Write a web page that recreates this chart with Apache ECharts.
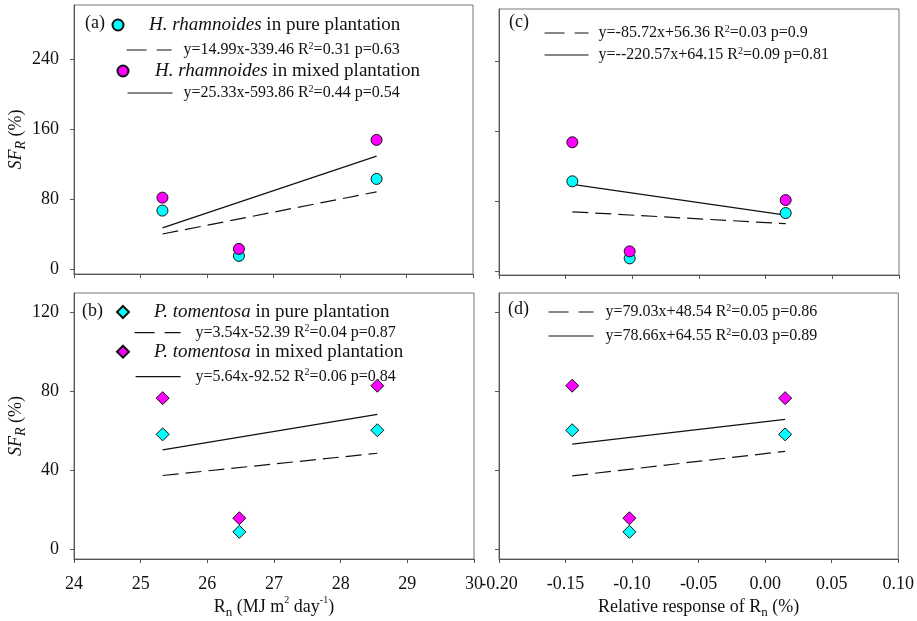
<!DOCTYPE html>
<html>
<head>
<meta charset="utf-8">
<script src="https://cdn.jsdelivr.net/npm/echarts@6/dist/echarts.min.js"></script>
<style>
  html, body { margin: 0; padding: 0; background: #fff; }
  #chart { width: 917px; height: 621px; }
</style>
</head>
<body>
<div id="chart"></div>
<script>
// x positions
const rnValues = [25.33, 26.48, 28.55];
const relValues = [0.015, -0.102, -0.145];

// SFR (%) of H. rhamnoides, same order as rnValues
const hrPure = [67, 15.2, 103.2];
const hrMixed = [81.8, 23.2, 147.8];
// SFR (%) of P. tomentosa
const ptPure = [58.2, 8.7, 60.3];
const ptMixed = [76.6, 15.6, 82.9];

// regression line end points [x, y]
const fitAPure = [[25.33, 40.2], [28.55, 88.4]];
const fitAMixed = [[25.33, 47.3], [28.55, 129.2]];
const fitCPure = [[-0.145, 68.4], [0.015, 54.8]];
const fitCMixed = [[-0.145, 99.6], [0.015, 64.6]];
const fitBPure = [[25.33, 37.3], [28.55, 48.6]];
const fitBMixed = [[25.33, 50.3], [28.55, 68.4]];
const fitDPure = [[-0.145, 37.1], [0.015, 49.6]];
const fitDMixed = [[-0.145, 53.2], [0.015, 65.8]];

const topTicks = [0, 80, 160, 240];
const bottomTicks = [0, 40, 80, 120];

const legendText = {
  aPure: '{i|H. rhamnoides} in pure plantation',
  aPureFit: 'y=14.99x-339.46 R{sup|2}=0.31 p=0.63',
  aMixed: '{i|H. rhamnoides} in mixed plantation',
  aMixedFit: 'y=25.33x-593.86 R{sup|2}=0.44 p=0.54',
  cPureFit: 'y=-85.72x+56.36 R{sup|2}=0.03 p=0.9',
  cMixedFit: 'y=--220.57x+64.15 R{sup|2}=0.09 p=0.81',
  bPure: '{i|P. tomentosa} in pure plantation',
  bPureFit: 'y=3.54x-52.39 R{sup|2}=0.04 p=0.87',
  bMixed: '{i|P. tomentosa} in mixed plantation',
  bMixedFit: 'y=5.64x-92.52 R{sup|2}=0.06 p=0.84',
  dPureFit: 'y=79.03x+48.54 R{sup|2}=0.05 p=0.86',
  dMixedFit: 'y=78.66x+64.55 R{sup|2}=0.03 p=0.89'
};

const FONT = '"Liberation Serif", "Times New Roman", serif';
const CYAN = '#00ffff';
const MAGENTA = '#ff00ff';
const AXIS = '#555';

function makeLegend(name, left, top, opts) {
  const fs = opts.big ? 19 : 16;
  const leg = {
    data: [name],
    left: left, top: top,
    orient: 'vertical',
    padding: 0,
    itemWidth: opts.w, itemHeight: opts.h,
    selectedMode: false,
    formatter: n => legendText[n],
    textStyle: {
      fontFamily: FONT, fontSize: fs, color: '#111', lineHeight: 20,
      padding: [0, 0, 0, opts.pad],
      rich: {
        i: { fontFamily: FONT, fontSize: fs, fontStyle: 'italic', color: '#111', lineHeight: 20 },
        sup: { fontFamily: FONT, fontSize: 10, color: '#111', verticalAlign: 'top', lineHeight: 10, padding: [1, 0, 0, 0] }
      }
    }
  };
  if (opts.line) {
    // line sample only, no symbol
    leg.itemStyle = { color: 'transparent', borderColor: 'transparent', borderWidth: 0, opacity: 0 };
    leg.lineStyle = { color: '#111', width: 1.2, type: opts.line === 'dashed' ? [20, 10] : 'solid' };
  }
  return leg;
}

const grids = [
  { left: 74, width: 399, top: 5, height: 269 },
  { left: 499, width: 400, top: 9, height: 266 },
  { left: 74, width: 400, top: 293, height: 266 },
  { left: 499, width: 400, top: 293, height: 266 }
].map(g => Object.assign(g, { show: true, borderColor: '#777', borderWidth: 1, containLabel: false }));

function xAxisFor(gridIndex, isRn, showLabels) {
  return {
    type: 'value', gridIndex: gridIndex,
    min: isRn ? 24 : -0.2, max: isRn ? 30 : 0.1, interval: isRn ? 1 : 0.05,
    splitLine: { show: false },
    axisLine: { onZero: false, lineStyle: { color: AXIS, width: 1 } },
    axisTick: { show: true, length: 4, lineStyle: { color: AXIS } },
    axisLabel: {
      show: showLabels, margin: 16, fontFamily: FONT, fontSize: 18, color: '#111',
      formatter: v => isRn ? String(Math.round(v)) : v.toFixed(2)
    },
    name: showLabels ? (isRn ? 'R{sub|n} (MJ m{sup|2} day{sup|-1})' : 'Relative response of R{sub|n} (%)') : '',
    nameLocation: 'middle', nameGap: 36,
    nameTextStyle: {
      fontFamily: FONT, fontSize: 18, color: '#111', lineHeight: 24,
      rich: {
        sub: { fontFamily: FONT, fontSize: 13, color: '#111', verticalAlign: 'bottom', lineHeight: 14 },
        sup: { fontFamily: FONT, fontSize: 10, color: '#111', verticalAlign: 'top', lineHeight: 12 }
      }
    }
  };
}

function yAxisFor(gridIndex, min, max, ticks, showLabels) {
  return {
    type: 'value', gridIndex: gridIndex, min: min, max: max,
    splitLine: { show: false },
    axisLine: { onZero: false, lineStyle: { color: AXIS, width: 1 } },
    axisTick: { show: true, length: 4, customValues: ticks, lineStyle: { color: AXIS } },
    axisLabel: {
      show: showLabels, customValues: ticks, margin: 15,
      fontFamily: FONT, fontSize: 18, color: '#111'
    },
    name: showLabels ? '{i|SF}{sub|R} (%)' : '',
    nameLocation: 'middle', nameGap: 46,
    nameTextStyle: {
      fontFamily: FONT, fontSize: 18, color: '#111', lineHeight: 24,
      rich: {
        i: { fontFamily: FONT, fontSize: 18, fontStyle: 'italic', color: '#111', lineHeight: 24 },
        sub: { fontFamily: FONT, fontSize: 14, fontStyle: 'italic', color: '#111', verticalAlign: 'bottom', lineHeight: 16 }
      }
    }
  };
}

function pts(xs, ys) { return xs.map((x, i) => [x, ys[i]]); }

function scatter(name, idx, data, color, symbol) {
  return {
    name: name, type: 'scatter', xAxisIndex: idx, yAxisIndex: idx,
    data: data, symbol: symbol, symbolSize: symbol === 'diamond' ? 13 : 11, z: 5,
    itemStyle: { color: color, borderColor: '#111', borderWidth: 1, opacity: 1 }
  };
}

function fit(name, idx, data, dashed) {
  return {
    name: name, type: 'line', xAxisIndex: idx, yAxisIndex: idx,
    data: data, symbol: 'none', showSymbol: false, z: 3,
    itemStyle: { color: '#111' },
    lineStyle: { color: '#111', width: 1.2, type: dashed ? [16, 7] : 'solid' }
  };
}

const panelTitle = (text, left, top) => ({
  text: text, left: left, top: top, padding: 0,
  textStyle: { fontFamily: FONT, fontSize: 18, fontWeight: 'normal', color: '#111' }
});

const option = {
  animation: false,
  backgroundColor: '#fff',
  title: [
    panelTitle('(a)', 85, 14),
    panelTitle('(c)', 509, 13),
    panelTitle('(b)', 82, 302),
    panelTitle('(d)', 508, 300)
  ],
  legend: [
    makeLegend('aPure', 111.5, 15, { w: 11, h: 11, pad: 20.5, big: true }),
    makeLegend('aPureFit', 126, 40, { w: 45, h: 14, pad: 7, line: 'dashed' }),
    makeLegend('aMixed', 116.5, 61, { w: 11, h: 11, pad: 21.5, big: true }),
    makeLegend('aMixedFit', 127, 83, { w: 45, h: 14, pad: 6, line: 'solid' }),
    makeLegend('cPureFit', 544, 23, { w: 44, h: 14, pad: 5, line: 'dashed' }),
    makeLegend('cMixedFit', 544, 45, { w: 44, h: 14, pad: 5, line: 'solid' }),
    makeLegend('bPure', 116, 302, { w: 12, h: 12, pad: 20, big: true }),
    makeLegend('bPureFit', 134, 322.7, { w: 46, h: 14, pad: 10, line: 'dashed' }),
    makeLegend('bMixed', 116, 341.7, { w: 12, h: 12, pad: 20, big: true }),
    makeLegend('bMixedFit', 135, 366.7, { w: 45, h: 14, pad: 10, line: 'solid' }),
    makeLegend('dPureFit', 548, 302, { w: 45, h: 14, pad: 7, line: 'dashed' }),
    makeLegend('dMixedFit', 548, 326, { w: 45, h: 14, pad: 7, line: 'solid' })
  ],
  grid: grids,
  xAxis: [
    xAxisFor(0, true, false),
    xAxisFor(1, false, false),
    xAxisFor(2, true, true),
    xAxisFor(3, false, true)
  ],
  yAxis: [
    yAxisFor(0, -5.5, 302, topTicks, true),
    yAxisFor(1, -3.8, 300, topTicks, false),
    yAxisFor(2, -5.1, 130, bottomTicks, true),
    yAxisFor(3, -5.1, 130, bottomTicks, false)
  ],
  series: [
    fit('aPureFit', 0, fitAPure, true),
    fit('aMixedFit', 0, fitAMixed, false),
    scatter('aPure', 0, pts(rnValues, hrPure), CYAN, 'circle'),
    scatter('aMixed', 0, pts(rnValues, hrMixed), MAGENTA, 'circle'),

    fit('cPureFit', 1, fitCPure, true),
    fit('cMixedFit', 1, fitCMixed, false),
    scatter('cPure', 1, pts(relValues, hrPure), CYAN, 'circle'),
    scatter('cMixed', 1, pts(relValues, hrMixed), MAGENTA, 'circle'),

    fit('bPureFit', 2, fitBPure, true),
    fit('bMixedFit', 2, fitBMixed, false),
    scatter('bPure', 2, pts(rnValues, ptPure), CYAN, 'diamond'),
    scatter('bMixed', 2, pts(rnValues, ptMixed), MAGENTA, 'diamond'),

    fit('dPureFit', 3, fitDPure, true),
    fit('dMixedFit', 3, fitDMixed, false),
    scatter('dPure', 3, pts(relValues, ptPure), CYAN, 'diamond'),
    scatter('dMixed', 3, pts(relValues, ptMixed), MAGENTA, 'diamond')
  ]
};

const chart = echarts.init(document.getElementById('chart'));
chart.setOption(option);
</script>
</body>
</html>
